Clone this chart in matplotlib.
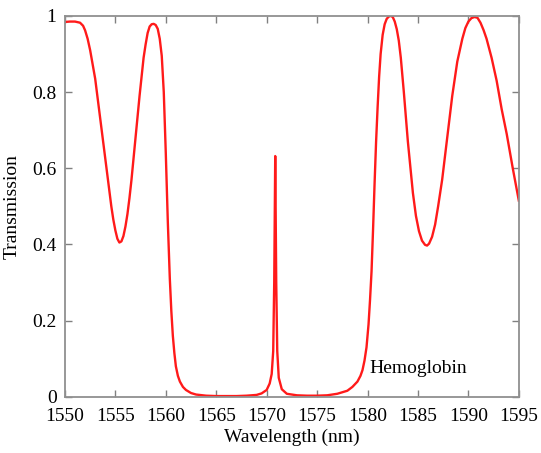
import matplotlib
matplotlib.use("Agg")
import matplotlib.pyplot as plt
from matplotlib.ticker import FuncFormatter

# values
wavelength = [
    1550.0, 1550.5, 1551.0, 1551.5, 1551.8, 1552.0, 1552.25, 1552.5, 1553.0, 1553.5,
    1554.0, 1554.3, 1554.6, 1554.8, 1555.0, 1555.2, 1555.4, 1555.6, 1555.8, 1556.0,
    1556.2, 1556.4, 1556.6, 1557.0, 1557.4, 1557.8, 1558.0, 1558.2, 1558.4, 1558.6,
    1558.8, 1559.0, 1559.2, 1559.4, 1559.6, 1559.8, 1560.0, 1560.2, 1560.4, 1560.55,
    1560.7, 1560.85, 1561.0, 1561.2, 1561.4, 1561.7, 1562.0, 1562.5, 1563.0, 1564.0,
    1565.0, 1566.0, 1567.0, 1568.0, 1569.0, 1569.5, 1570.0, 1570.3, 1570.5, 1570.65,
    1570.75, 1570.85, 1570.95, 1571.05, 1571.2, 1571.5, 1572.0, 1573.0, 1574.0, 1575.0,
    1576.0, 1577.0, 1578.0, 1578.5, 1579.0, 1579.3, 1579.5, 1579.7, 1579.9, 1580.1,
    1580.25, 1580.4, 1580.55, 1580.7, 1580.85, 1581.0, 1581.15, 1581.3, 1581.5, 1581.7,
    1581.9, 1582.1, 1582.3, 1582.5, 1582.7, 1582.9, 1583.1, 1583.3, 1583.6, 1584.0,
    1584.5, 1584.8, 1585.1, 1585.4, 1585.7, 1585.9, 1586.1, 1586.4, 1586.7, 1587.0,
    1587.4, 1587.9, 1588.4, 1588.9, 1589.4, 1589.7, 1590.0, 1590.3, 1590.6, 1590.9,
    1591.2, 1591.5, 1591.8, 1592.3, 1592.8, 1593.3, 1593.8, 1594.4, 1595.0,
]
transmission = [
    0.984, 0.985, 0.985, 0.982, 0.974, 0.962, 0.940, 0.910, 0.835, 0.730,
    0.625, 0.562, 0.500, 0.465, 0.437, 0.415, 0.405, 0.408, 0.422, 0.447,
    0.480, 0.522, 0.570, 0.680, 0.790, 0.890, 0.925, 0.955, 0.972, 0.978,
    0.979, 0.976, 0.966, 0.940, 0.895, 0.800, 0.640, 0.460, 0.310, 0.225,
    0.160, 0.115, 0.080, 0.055, 0.040, 0.026, 0.018, 0.010, 0.006, 0.003,
    0.002, 0.002, 0.002, 0.003, 0.005, 0.009, 0.018, 0.035, 0.060, 0.120,
    0.300, 0.632, 0.300, 0.120, 0.050, 0.020, 0.008, 0.004, 0.003, 0.003,
    0.004, 0.008, 0.016, 0.026, 0.040, 0.055, 0.070, 0.095, 0.130, 0.190,
    0.255, 0.330, 0.440, 0.560, 0.670, 0.760, 0.840, 0.900, 0.950, 0.978,
    0.992, 0.998, 1.000, 0.997, 0.985, 0.965, 0.935, 0.890, 0.800, 0.670,
    0.535, 0.475, 0.435, 0.410, 0.399, 0.397, 0.402, 0.420, 0.452, 0.500,
    0.570, 0.680, 0.790, 0.880, 0.940, 0.968, 0.985, 0.994, 0.997, 0.995,
    0.982, 0.963, 0.940, 0.890, 0.830, 0.755, 0.690, 0.600, 0.515,
]

x_ticks = [1550, 1555, 1560, 1565, 1570, 1575, 1580, 1585, 1590, 1595]
y_ticks = [0, 0.2, 0.4, 0.6, 0.8, 1]

plt.rcParams['font.family'] = ['Liberation Serif', 'DejaVu Serif']
plt.rcParams['font.size'] = 14

fig = plt.figure(figsize=(5.41, 4.53), dpi=100)
ax = fig.add_axes([0.120, 0.124, 0.839, 0.841])

ax.plot(wavelength, transmission, color='#ff1a1a', linewidth=1.7)

ax.set_xlim(1550, 1595)
ax.set_ylim(0, 1.0)
ax.set_xticks(x_ticks)
ax.set_yticks(y_ticks)
ax.yaxis.set_major_formatter(FuncFormatter(lambda v, p: '%g' % v))

ax.tick_params(direction='in', top=True, right=True, length=5, width=1,
               color='#808080', labelsize=14)
ax.tick_params(axis='x', pad=8)
ax.tick_params(axis='y', pad=6)
for s in ax.spines.values():
    s.set_color('#909090')
    s.set_linewidth(1.3)

ax.set_xlabel('Wavelength (nm)', fontsize=14, labelpad=3)
ax.set_ylabel('Transmission', fontsize=14, labelpad=8)

ax.text(1580.2, 0.074, 'Hemoglobin', fontsize=14, va='center', ha='left')

fig.savefig('out.png', dpi=100)
